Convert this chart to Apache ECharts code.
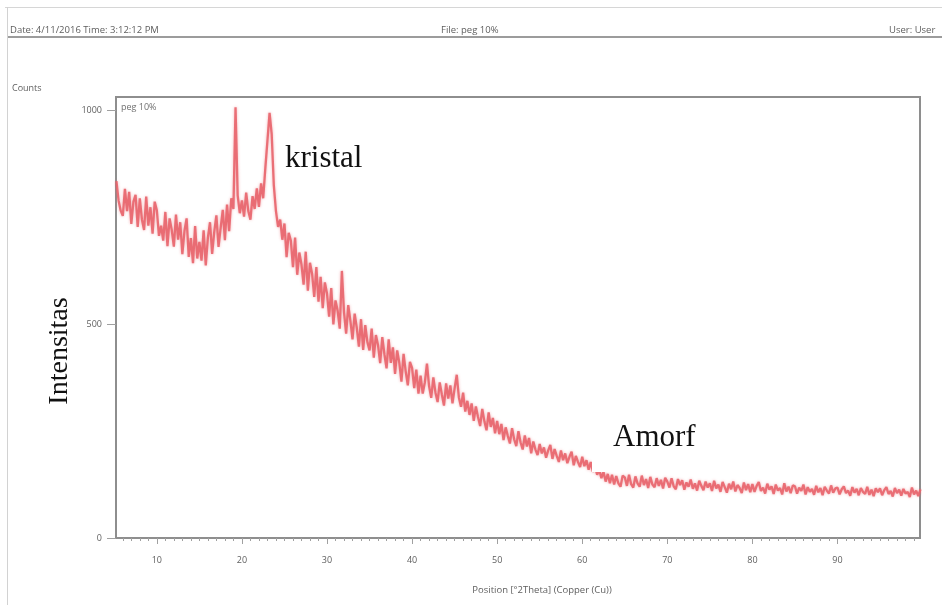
<!DOCTYPE html>
<html>
<head>
<meta charset="utf-8">
<script src="https://cdn.jsdelivr.net/npm/echarts@6/dist/echarts.min.js"></script>
<style>
  html, body { margin: 0; padding: 0; background: #ffffff; }
  #chart { width: 942px; height: 605px; }
</style>
</head>
<body>
<div id="chart"></div>
<script>
// XRD scan of sample "peg 10%": counts recorded every 0.25 °2θ, grouped in 5° blocks.
const scanStep = 0.25;
const scan05 = [835, 790, 766, 754, 817, 765, 810, 735, 787, 803, 728, 795, 745, 721, 799, 731, 774, 712, 787]; // from 5.25
const scan10 = [767, 707, 731, 696, 763, 683, 748, 721, 682, 757, 698, 739, 664, 719, 748, 658, 702, 643, 730, 654];
const scan15 = [693, 649, 720, 638, 703, 739, 665, 717, 755, 681, 726, 768, 697, 780, 718, 795, 770, 1008, 802, 760];
const scan20 = [790, 752, 808, 765, 745, 800, 770, 818, 775, 830, 795, 865, 930, 995, 945, 825, 765, 728, 745, 698];
const scan25 = [736, 657, 714, 696, 634, 703, 616, 668, 640, 593, 670, 579, 644, 618, 564, 634, 553, 611, 538, 598];
const scan30 = [572, 518, 585, 500, 556, 532, 490, 625, 528, 478, 545, 508, 465, 525, 492, 448, 512, 440, 498, 458];
const scan35 = [439, 490, 422, 475, 451, 409, 470, 430, 397, 465, 410, 446, 384, 439, 410, 366, 431, 390, 357, 412];
const scan40 = [398, 351, 394, 338, 380, 338, 364, 408, 355, 328, 376, 340, 318, 364, 336, 310, 362, 326, 357, 315];
const scan45 = [350, 382, 329, 307, 340, 296, 321, 288, 315, 274, 308, 283, 262, 302, 273, 252, 294, 260, 281, 245];
const scan50 = [274, 243, 267, 229, 259, 239, 221, 257, 231, 215, 250, 224, 207, 240, 214, 234, 198, 226, 207, 194];
const scan55 = [220, 198, 212, 188, 205, 218, 185, 208, 192, 178, 205, 182, 198, 175, 190, 202, 170, 192, 178, 166];
const scan60 = [190, 168, 182, 160, 178, 155, 168, 148, 160, 140, 155, 132, 150, 128, 148, 125, 145, 128, 120, 146];
const scan65 = [142, 122, 148, 126, 118, 144, 128, 120, 146, 124, 138, 117, 143, 125, 119, 140, 122, 136, 116, 141];
const scan70 = [132, 118, 140, 121, 114, 138, 124, 135, 113, 130, 120, 137, 115, 128, 111, 134, 122, 112, 132, 118];
const scan75 = [128, 110, 134, 116, 125, 108, 131, 119, 106, 127, 114, 132, 109, 124, 117, 105, 130, 112, 126, 107];
const scan80 = [126, 108, 122, 131, 110, 118, 104, 127, 113, 121, 103, 125, 111, 117, 102, 128, 109, 120, 105, 123];
const scan85 = [121, 104, 118, 110, 125, 102, 119, 108, 115, 101, 122, 107, 117, 100, 120, 111, 104, 123, 106, 116];
const scan90 = [118, 102, 114, 121, 105, 111, 99, 119, 106, 115, 100, 117, 108, 103, 120, 101, 113, 98, 116, 107];
const scan95 = [116, 100, 112, 119, 103, 110, 97, 117, 105, 113, 99, 115, 104, 108, 96, 118, 102, 111, 98, 114];

const scanBlocks = [
  [5.25, scan05], [10, scan10], [15, scan15], [20, scan20], [25, scan25],
  [30, scan30], [35, scan35], [40, scan40], [45, scan45], [50, scan50],
  [55, scan55], [60, scan60], [65, scan65], [70, scan70], [75, scan75],
  [80, scan80], [85, scan85], [90, scan90], [95, scan95]
];

const xRange = [5.2, 99.7];
const xTickValues = [10, 20, 30, 40, 50, 60, 70, 80, 90];
const yTickValues = [0, 500, 1000];

const headerLeft = 'Date: 4/11/2016 Time: 3:12:12 PM';
const headerMid = 'File: peg 10%';
const headerRight = 'User: User';
const sampleName = 'peg 10%';
const xTitle = 'Position [°2Theta] (Copper (Cu))';
const yUnit = 'Counts';
const yTitle = 'Intensitas';
const crystalNote = 'kristal';
const amorphousNote = 'Amorf';

// Pair every count with its diffraction angle on the scan grid.
const scanData = [];
scanBlocks.forEach(([start, counts]) => {
  counts.forEach((c, i) => scanData.push([start + i * scanStep, c]));
});

// whole-degree minor ticks between the axis ends
const minorTicks = [];
for (let d = Math.ceil(xRange[0]); d <= Math.floor(xRange[1]); d++) minorTicks.push(d);

const gray = '#8e8e8e';
const tickGray = '#a0a0a0';
const labelColor = '#5e5e5e';
const traceColor = '#e8646c';
const uiFont = '"Open Sans", "Noto Sans", sans-serif';
const serifFont = '"Liberation Serif", "DejaVu Serif", serif';

const chart = echarts.init(document.getElementById('chart'), null, { renderer: 'canvas' });

chart.setOption({
  animation: false,
  backgroundColor: '#ffffff',
  grid: {
    left: 116, top: 97, right: 22, bottom: 67,
    show: true, borderColor: gray, borderWidth: 2, backgroundColor: 'transparent'
  },
  xAxis: [
    {
      // fine 1° ticks along the bottom edge
      type: 'value', min: xRange[0], max: xRange[1],
      axisLine: { show: true, lineStyle: { color: gray, width: 2 } },
      axisTick: { show: true, length: 3, customValues: minorTicks, lineStyle: { color: tickGray, width: 1 } },
      axisLabel: { show: false },
      splitLine: { show: false }
    },
    {
      // labelled 10° ticks
      type: 'value', min: xRange[0], max: xRange[1], position: 'bottom',
      axisLine: { show: false },
      axisTick: { show: true, length: 6, customValues: xTickValues, lineStyle: { color: tickGray, width: 1 } },
      axisLabel: {
        show: true, customValues: xTickValues, margin: 18,
        color: labelColor, fontSize: 9, fontFamily: uiFont
      },
      splitLine: { show: false }
    }
  ],
  yAxis: {
    type: 'value', min: 0, max: 1032,
    axisLine: { show: true, lineStyle: { color: gray, width: 2 } },
    axisTick: { show: true, length: 9, customValues: yTickValues, lineStyle: { color: tickGray, width: 1 } },
    axisLabel: {
      show: true, customValues: yTickValues, margin: 14,
      formatter: (v) => String(v),
      color: labelColor, fontSize: 9, fontFamily: uiFont
    },
    splitLine: { show: false }
  },
  series: [{
    type: 'line',
    name: sampleName,
    xAxisIndex: 0,
    data: scanData,
    showSymbol: false,
    symbol: 'none',
    sampling: false,
    clip: true,
    lineStyle: {
      color: traceColor, width: 2.3, opacity: 0.9,
      shadowBlur: 3, shadowColor: 'rgba(232, 100, 108, 0.55)'
    },
    z: 3
  }],
  graphic: [
    // page frame lines
    { type: 'rect', shape: { x: 5, y: 7, width: 937, height: 1 }, style: { fill: '#d6d6d6' }, z: 50 },
    { type: 'rect', shape: { x: 7, y: 7, width: 1, height: 598 }, style: { fill: '#d2d2d2' }, z: 50 },
    { type: 'rect', shape: { x: 8, y: 36, width: 934, height: 2 }, style: { fill: '#9c9c9c' }, z: 50 },
    // report header
    { type: 'text', x: 10, y: 30, z: 50, style: { text: headerLeft, fill: labelColor, font: '9.5px ' + uiFont, verticalAlign: 'middle' } },
    { type: 'text', x: 441, y: 30, z: 50, style: { text: headerMid, fill: labelColor, font: '9.5px ' + uiFont, verticalAlign: 'middle' } },
    { type: 'text', x: 889, y: 30, z: 50, style: { text: headerRight, fill: labelColor, font: '9.5px ' + uiFont, verticalAlign: 'middle' } },
    // axis captions
    { type: 'text', x: 12, y: 88, z: 50, style: { text: yUnit, fill: labelColor, font: '9px ' + uiFont, verticalAlign: 'middle' } },
    { type: 'text', x: 542, y: 590, z: 50, style: { text: xTitle, fill: labelColor, font: '9.5px ' + uiFont, align: 'center', verticalAlign: 'middle' } },
    { type: 'text', x: 121, y: 107, z: 50, style: { text: sampleName, fill: '#707070', font: '9px ' + uiFont, verticalAlign: 'middle' } },
    {
      type: 'text', x: 60, y: 351, rotation: Math.PI / 2, z: 50,
      style: { text: yTitle, fill: '#111111', font: '28px ' + serifFont, align: 'center', verticalAlign: 'middle' }
    },
    // annotations
    { type: 'text', x: 285, y: 159, z: 60, style: { text: crystalNote, fill: '#111111', font: '31px ' + serifFont, verticalAlign: 'middle' } },
    { type: 'rect', shape: { x: 592, y: 412, width: 326, height: 60 }, style: { fill: '#ffffff' }, z: 55 },
    { type: 'text', x: 613, y: 438, z: 60, style: { text: amorphousNote, fill: '#111111', font: '31px ' + serifFont, verticalAlign: 'middle' } }
  ]
});
</script>
</body>
</html>
